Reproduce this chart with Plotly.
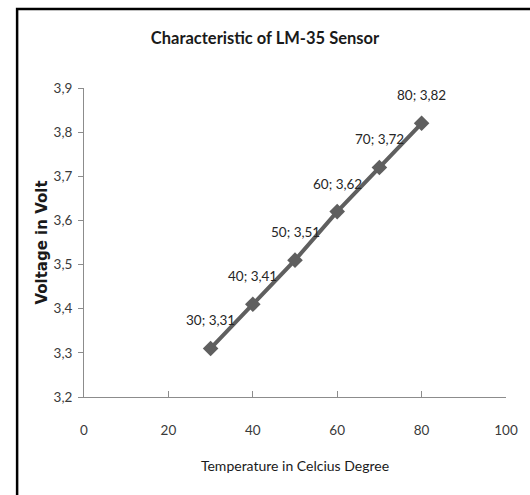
import plotly.graph_objects as go

temperature = [30, 40, 50, 60, 70, 80]
voltage = [3.31, 3.41, 3.51, 3.62, 3.72, 3.82]
x_ticks = [0, 20, 40, 60, 80, 100]
y_ticks = [3.2, 3.3, 3.4, 3.5, 3.6, 3.7, 3.8, 3.9]

labels = [f"{t}; {str(v).replace('.', ',')}" for t, v in zip(temperature, voltage)]

W, H = 530, 495
L, R, T, B = 84, 17, 88, 98
pw, ph = W - L - R, H - T - B

def px_x(p):
    return (p - L) / pw

def px_y(p):
    return (H - B - p) / ph

FONT = "Lato, sans-serif"

fig = go.Figure()
fig.add_trace(go.Scatter(
    x=temperature, y=voltage,
    mode="lines+markers",
    line=dict(color="#5f5f5f", width=4),
    marker=dict(symbol="diamond", size=12, color="#5f5f5f"),
    cliponaxis=False,
    showlegend=False,
))

annotations = [
    dict(x=t, y=v, text=lab, showarrow=False, xref="x", yref="y",
         xanchor="center", yanchor="middle", yshift=28,
         font=dict(family=FONT, size=13.5, color="#262626"))
    for t, v, lab in zip(temperature, voltage, labels)
]

fig.update_layout(
    width=W, height=H,
    margin=dict(l=L, r=R, t=T, b=B),
    paper_bgcolor="white", plot_bgcolor="white",
    separators=",.",
    annotations=annotations,
    title=dict(text="<b>Characteristic of LM-35 Sensor</b>",
               x=0.5, xanchor="center", y=1 - 38 / H, yanchor="middle",
               font=dict(family=FONT, size=16.5, color="#1a1a1a")),
    xaxis=dict(range=[0, 100], tickvals=x_ticks, showgrid=False, zeroline=False,
               showline=True, linecolor="#8c8c8c", linewidth=1,
               ticks="inside", ticklen=6, tickcolor="#8c8c8c",
               ticklabelstandoff=21,
               tickfont=dict(family=FONT, size=13.5, color="#3a3a3a"),
               title=dict(text="Temperature in Celcius Degree", standoff=23,
                          font=dict(family=FONT, size=14, color="#1a1a1a"))),
    yaxis=dict(range=[3.2, 3.9], tickvals=y_ticks, tickformat=".1f",
               showgrid=False, zeroline=False,
               showline=True, linecolor="#8c8c8c", linewidth=1,
               ticks="outside", ticklen=5, tickcolor="#8c8c8c",
               ticklabelstandoff=3,
               tickfont=dict(family=FONT, size=13.5, color="#3a3a3a"),
               title=dict(text="Voltage in Volt", standoff=2,
                          font=dict(family="DejaVu Sans, sans-serif", size=15,
                                    color="#1a1a1a", weight="bold"))),
    shapes=[dict(type="rect", xref="paper", yref="paper",
                 x0=px_x(16), x1=px_x(545), y0=px_y(510), y1=px_y(9),
                 line=dict(color="black", width=2.5), layer="above")],
)

fig.write_html("out.html", config={"displayModeBar": False},
               post_script="document.body.style.margin='0';")
